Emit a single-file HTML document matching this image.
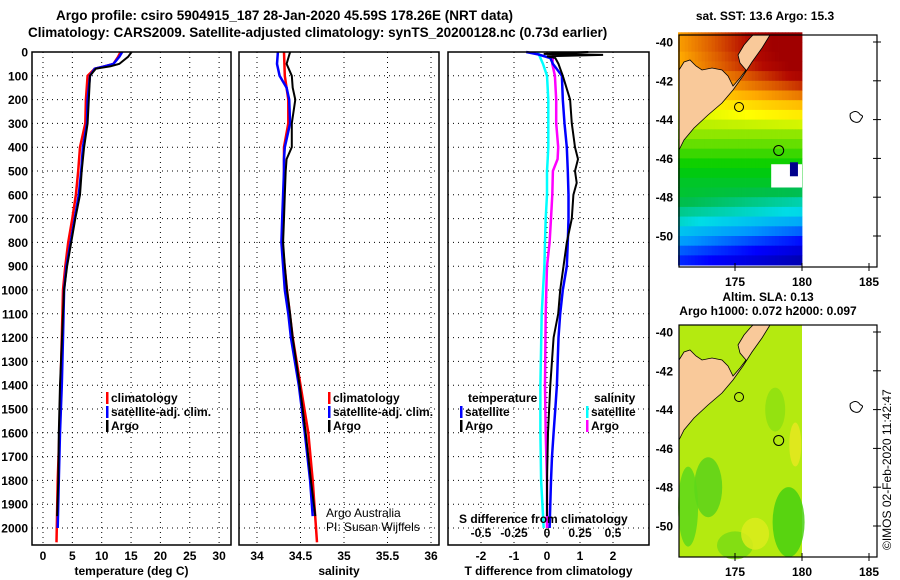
<!DOCTYPE html>
<html><head><meta charset="utf-8">
<style>
html,body{margin:0;padding:0;background:#fff;}
svg{display:block;font-family:"Liberation Sans",sans-serif;}
.t{font-weight:bold;font-size:12px;fill:#000;}
.h{font-weight:bold;font-size:13.5px;fill:#000;}
</style></head>
<body>
<svg id="c" width="900" height="580" viewBox="0 0 900 580">
<text class="h" x="56" y="20">Argo profile: csiro 5904915_187 28-Jan-2020 45.59S 178.26E (NRT data)</text>
<text class="h" x="28" y="37">Climatology: CARS2009. Satellite-adjusted climatology: synTS_20200128.nc (0.73d earlier)</text>
<text class="t" x="765" y="20" text-anchor="middle">sat. SST: 13.6 Argo: 15.3</text>
<text class="t" x="768" y="301" text-anchor="middle">Altim. SLA: 0.13</text>
<text class="t" x="768" y="315" text-anchor="middle">Argo h1000: 0.072 h2000: 0.097</text>
<text x="891" y="550" transform="rotate(-90 891 550)" font-size="12">©IMOS 02-Feb-2020 11:42:47</text>
<g id="g"></g>
</svg>
<script>
// ---- data ----
const depthTicks=[0,100,200,300,400,500,600,700,800,900,1000,1100,1200,1300,1400,1500,1600,1700,1800,1900,2000];
const tempTicks=[0,5,10,15,20,25,30];
const salTicks=[34,34.5,35,35.5,36];
const salTickLabels=["34","34.5","35","35.5","36"];
const tdTicks=[-2,-1,0,1,2];
const sdTicks=[-0.5,-0.25,0,0.25,0.5];
const sdTickLabels=["-0.5","-0.25","0","0.25","0.5"];
const argoTDepth=[0,20,50,60,70,100,200,300,400,500,600,700,800,900,1000,1100,1400,1600,1800,1950];
const argoTemp=[15.1,14.5,13.0,11.5,9.0,8.0,7.8,7.6,7.0,6.6,6.3,5.5,4.8,4.1,3.6,3.4,2.9,2.7,2.6,2.4];
const climTDepth=[0,20,50,60,70,100,200,300,400,500,600,700,800,900,1000,1200,1400,1600,1800,2060];
const climTemp=[13.2,12.8,12.0,10.5,8.8,7.6,7.3,7.2,6.3,6.0,5.6,5.0,4.3,3.8,3.4,3.2,3.0,2.8,2.5,2.3];
const satTDepth=[0,20,50,60,70,100,200,300,400,500,600,700,800,900,1000,1200,1400,1600,1800,2000];
const satTemp=[13.5,13.0,12.0,10.5,8.8,8.0,7.6,7.5,6.8,6.5,6.1,5.4,4.7,4.0,3.6,3.4,3.2,2.9,2.7,2.5];
const salDepth=[0,50,100,150,200,300,400,450,500,600,700,800,900,1000,1100,1200,1400,1600,1800,1950];
const argoSal=[34.38,34.34,34.40,34.41,34.44,34.40,34.40,34.34,34.33,34.32,34.31,34.30,34.32,34.345,34.38,34.41,34.49,34.56,34.62,34.67];
const satSal=[34.24,34.23,34.26,34.34,34.37,34.38,34.32,34.31,34.31,34.30,34.29,34.28,34.30,34.32,34.36,34.39,34.48,34.55,34.61,34.64];
const climSalDepth=[0,100,200,300,400,600,800,1000,1200,1400,1600,1800,2060];
const climSal=[34.31,34.32,34.36,34.36,34.31,34.31,34.29,34.345,34.41,34.50,34.59,34.64,34.69];
const tdDepth=[0,8,12,18,25,50,70,100,200,300,400,450,500,550,600,700,800,900,1000,1100,1200,1400,1600,1800,1950];
const argoTDiff=[1.25,-0.1,1.7,0.0,0.25,0.35,0.4,0.48,0.7,0.75,0.85,0.94,0.85,0.9,0.8,0.75,0.6,0.5,0.4,0.34,0.2,0.1,0.03,0.0,0.0];
const satTDepthD=[0,10,25,50,100,200,300,400,500,600,700,800,900,1000,1100,1200,1400,1500,1600,1700,1800,2000];
const satTDiff=[-0.63,-0.27,0.1,0.18,0.45,0.48,0.53,0.6,0.63,0.65,0.65,0.63,0.6,0.48,0.4,0.35,0.3,0.25,0.2,0.15,0.12,0.08];
const sdDepth=[0,50,100,200,300,400,450,500,600,700,800,900,1000,1100,1400,1600,1800,2000];
const satSDiff=[-0.07,-0.03,0.0,0.01,0.01,0.01,0.005,0.0,0.0,-0.01,-0.015,-0.02,-0.03,-0.04,-0.05,-0.05,-0.045,-0.025];
const argoSDiff=[0.05,0.04,0.06,0.07,0.07,0.085,0.08,0.045,0.04,0.03,0.02,0.0,-0.005,-0.01,-0.015,-0.01,0.0,0.0];
const sstLat=[-39.75,-40.25,-40.75,-41.25,-41.75,-42.25,-42.75,-43.25,-43.75,-44.25,-44.75,-45.25,-45.75,-46.25,-46.75,-47.25,-47.75,-48.25,-48.75,-49.25,-49.75,-50.25,-50.75,-51.25];
const sstVal=[16.6,16.6,16.5,16.4,16.1,15.8,15.4,15.0,14.7,14.4,14.1,13.9,13.7,13.5,13.3,13.1,12.9,12.6,12.3,11.9,11.4,10.9,10.4,10.0];
const sstLonGrad=[0.22,0.22,0.22,0.2,0.18,0.15,0.12,0.08,0.05,0.02,0,0,0,0,0,0,-0.03,-0.05,-0.05,-0.08,-0.1,-0.12,-0.12,-0.12];
const latTicks=[-40,-42,-44,-46,-48,-50];
const lonTicks=[175,180,185];

const NS="http://www.w3.org/2000/svg";
const G=document.getElementById('g');
function mk(tag,at,par){const e=document.createElementNS(NS,tag);for(const k in at)e.setAttribute(k,at[k]);(par||G).appendChild(e);return e;}
const Y0=52,YPX=0.238;
function yD(d){return Y0+d*YPX;}
const BOT=545;
function panel(name,x0,x1,xs,ticks,labels,xlabel){
  const p=mk('g',{});
  
  
  ticks.forEach(v=>{const gl=mk('line',{x1:xs(v),x2:xs(v),y1:Y0,y2:BOT,stroke:'#000','stroke-width':1,'stroke-dasharray':'1,4'},p);
    });
  depthTicks.forEach(d=>{const gl=mk('line',{x1:x0,x2:x1,y1:yD(d),y2:yD(d),stroke:'#000','stroke-width':1,'stroke-dasharray':'1,4'},p);
    });
  ticks.forEach((v,i)=>{const t=mk('text',{x:xs(v),y:560,'text-anchor':'middle',class:'t'},p);t.textContent=labels[i];
    });
  const xl=mk('text',{x:(x0+x1)/2,y:575,'text-anchor':'middle',class:'t'},p);xl.textContent=xlabel;
  
  return p;
}
function frame(x0,x1,p){const r=mk('rect',{x:x0,y:Y0,width:x1-x0,height:BOT-Y0,fill:'none',stroke:'#000','stroke-width':1.5},p);
  }
function line(xs,vals,deps,color,name,p,w){
  const pts=vals.map((v,i)=>xs(v).toFixed(1)+','+yD(deps[i]).toFixed(1)).join(' ');
  const l=mk('polyline',{points:pts,fill:'none',stroke:color,'stroke-width':w||2.5,'stroke-linejoin':'miter'},p);
  
}
function legend(p,x,y,items){
  items.forEach((it,i)=>{
    const m=mk('rect',{x:x,y:y+i*14-10,width:2.5,height:12,fill:it[1]},p);
    
    const t=mk('text',{x:x+5,y:y+i*14,class:'t'},p);t.textContent=it[0];
    
  });
}
const xT=v=>43+v*5.87;
const p1=panel('temperature-panel',32,231,xT,tempTicks,tempTicks.map(String),'temperature (deg C)');
depthTicks.forEach(d=>{const t=mk('text',{x:28,y:yD(d)+4.5,'text-anchor':'end',class:'t'},p1);t.textContent=d;
  });
line(xT,climTemp,climTDepth,'#f00','climatology-temp-line',p1);
line(xT,satTemp,satTDepth,'#00f','satellite-temp-line',p1);
line(xT,argoTemp,argoTDepth,'#000','argo-temp-line',p1,2);
frame(32,231,p1);
legend(p1,106,402,[['climatology','#f00'],['satellite-adj. clim.','#00f'],['Argo','#000']]);
const xS=v=>257+(v-34)*87;
const p2=panel('salinity-panel',239,439,xS,salTicks,salTickLabels,'salinity');
line(xS,climSal,climSalDepth,'#f00','climatology-salinity-line',p2);
line(xS,satSal,salDepth,'#00f','satellite-salinity-line',p2);
line(xS,argoSal,salDepth,'#000','argo-salinity-line',p2,2);
frame(239,439,p2);
legend(p2,328,402,[['climatology','#f00'],['satellite-adj. clim.','#00f'],['Argo','#000']]);
[['Argo Australia',517],['PI: Susan Wijffels',531]].forEach(a=>{const t=mk('text',{x:326,y:a[1],'font-size':12},p2);t.textContent=a[0];
  });
const xD=v=>547+v*33;
const xSD=v=>547+v*132;
const p3=panel('difference-panel',448,649,xD,tdTicks,tdTicks.map(String),'T difference from climatology');
line(xSD,satSDiff,sdDepth,'#0ff','satellite-salinity-diff-line',p3);
line(xSD,argoSDiff,sdDepth,'#f0f','argo-salinity-diff-line',p3);
line(xD,satTDiff,satTDepthD,'#00f','satellite-temp-diff-line',p3);
line(xD,argoTDiff,tdDepth,'#000','argo-temp-diff-line',p3,2);
frame(448,649,p3);
{const t=mk('text',{x:468,y:402,class:'t'},p3);t.textContent='temperature';}
legend(p3,460,416,[['satellite','#00f'],['Argo','#000']]);
{const t=mk('text',{x:594,y:402,class:'t'},p3);t.textContent='salinity';}
legend(p3,586,416,[['satellite','#0ff'],['Argo','#f0f']]);
{const t=mk('text',{x:459,y:523,class:'t'},p3);t.textContent='S difference from climatology';}
sdTicks.forEach((v,i)=>{const t=mk('text',{x:xSD(v),y:537,'text-anchor':'middle',class:'t'},p3);t.textContent=sdTickLabels[i];
  });

// ---- maps ----
const MX0=679,MX1=877;
const xL=lon=>735+(lon-175)*13.4;
function yL(lat,off){return 42+off+(-40-lat)*19.4;}
function jet(t){
  const st=[[0,[0,0,140]],[0.15,[0,0,255]],[0.28,[0,150,255]],[0.38,[0,220,230]],[0.46,[0,190,80]],[0.54,[0,205,0]],[0.62,[140,230,0]],[0.7,[255,255,0]],[0.8,[255,170,0]],[0.88,[220,90,0]],[0.95,[180,10,0]],[1,[160,0,0]]];
  t=Math.max(0,Math.min(1,t));
  for(let i=1;i<st.length;i++){if(t<=st[i][0]){const a=st[i-1],b=st[i],f=(t-a[0])/(b[0]-a[0]);
    return 'rgb('+a[1].map((c,k)=>Math.round(c+(b[1][k]-c)*f)).join(',')+')';}}
  return 'rgb(160,0,0)';
}
const landPts=[[679,70],[684,62],[690,60],[696,66],[702,70],[712,68],[722,70],[728,76],[733,86],[740,78],[746,70],[740,63],[738,55],[744,45],[750,38],[753,35],[770,35],[762,48],[752,62],[743,76],[733,90],[722,103],[708,115],[694,128],[684,140],[679,150]];
function drawMap(off,name,fillFn){
  const m=mk('g',{});
  
  const top=35+off,bot=267+off;
  mk('rect',{x:MX0,y:top,width:MX1-MX0,height:bot-top,fill:'#fff'},m);
  fillFn(m,top,bot);
  const land=mk('polygon',{points:landPts.map(p=>p[0]+','+(p[1]+off)).join(' '),fill:'#f9c99a',stroke:'#000','stroke-width':0.8},m);
  
  [[xL(175.3),yL(-43.35,off),4.5],[xL(178.26),yL(-45.59,off),5]].forEach(c=>{const e=mk('circle',{cx:c[0],cy:c[1],r:c[2],fill:'none',stroke:'#000','stroke-width':1},m);
    });
  const ch=mk('path',{d:`M${xL(183.6)},${yL(-43.7,off)} q6,-5 10,1 q4,1 1,4 q-2,5 -7,3 q-5,-2 -4,-8z`,fill:'none',stroke:'#000','stroke-width':1},m);
  
  const f=mk('rect',{x:MX0,y:top,width:MX1-MX0,height:bot-top,fill:'none',stroke:'#000','stroke-width':1.2},m);
  
  latTicks.forEach(l=>{const t=mk('text',{x:673,y:yL(l,off)+4.5,'text-anchor':'end',class:'t'},m);t.textContent=l;
    
    mk('line',{x1:MX1-4,x2:MX1+4,y1:yL(l,off),y2:yL(l,off),stroke:'#000'},m);});
  lonTicks.forEach(l=>{const t=mk('text',{x:xL(l),y:bot+19,'text-anchor':'middle',class:'t'},m);t.textContent=l;
    
    mk('line',{x1:xL(l),x2:xL(l),y1:bot-4,y2:bot+4,stroke:'#000'},m);});
}
drawMap(0,'sst-map',(m,top,bot)=>{
  const cw=13.4*0.25;
  sstLat.forEach((lat,i)=>{
    for(let lon=170.75;lon<180;lon+=0.25){
      const v=sstVal[i]+sstLonGrad[i]*(lon-175);
      const c=mk('rect',{x:xL(lon),y:yL(lat+0.25,0),width:cw+0.4,height:19.4*0.5+0.4,fill:jet((v-9)/8.2)},m);
      
    }
  });
  const w=mk('rect',{x:xL(177.7),y:yL(-46.3,0),width:xL(180)-xL(177.7),height:19.4*1.2,fill:'#fff'},m);
  
  const b=mk('rect',{x:xL(179.1),y:yL(-46.2,0),width:8,height:14,fill:'#00008c'},m);
  
});
drawMap(290,'sla-map',(m,top,bot)=>{
  const bg=mk('rect',{x:MX0,y:top,width:xL(180)-MX0,height:bot-top,fill:'#b4ea10'},m);
  
  [[173,-48,14,30,'#5cd21a'],[179,-49.8,16,35,'#48d010'],[171.5,-49,10,40,'#5ed81a'],[175,-51,18,14,'#7adc14'],[178,-44,10,22,'#8ee010'],[179.5,-45.8,6,22,'#e6e820'],[176.5,-50.4,14,16,'#dcec1c']].forEach(e=>{
    const el=mk('ellipse',{cx:xL(e[0]),cy:yL(e[1],290),rx:e[2],ry:e[3],fill:e[4],opacity:0.85},m);
    });
});
</script>
</body></html>
